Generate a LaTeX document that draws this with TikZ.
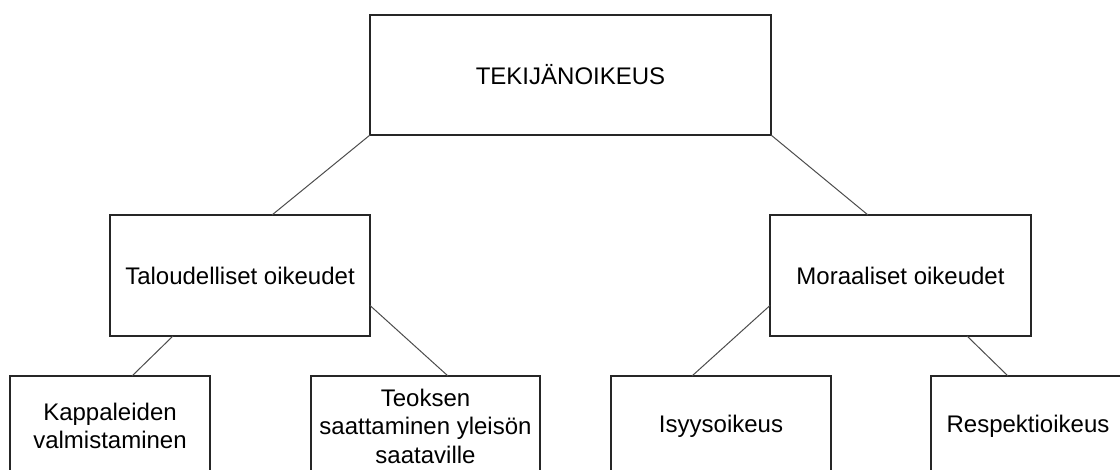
\documentclass[tikz,border=0pt]{standalone}
\usepackage{fontspec}
\setmainfont{Liberation Sans}
\begin{document}
\begin{tikzpicture}[x=1pt,y=-1pt,
  laatikko/.style={draw=black!85,line width=1.3pt,rectangle,outer sep=0pt,inner sep=0pt,
    align=center,font=\fontsize{24}{28.5}\selectfont},
  yhteys/.style={draw=black!70,line width=1pt}]
  \useasboundingbox (0,0) rectangle (1120,470);
  \clip (0,0) rectangle (1120,470);
  % ylin taso
  \node[laatikko,minimum width=401pt,minimum height=120pt] (tekija) at (570.5,75) {TEKIJÄNOIKEUS};
  % keskitaso
  \node[laatikko,minimum width=260pt,minimum height=121pt] (talous) at (240,275.5) {Taloudelliset oikeudet};
  \node[laatikko,minimum width=261pt,minimum height=121pt] (moraali) at (900.5,275.5) {Moraaliset oikeudet};
  % alin taso
  \node[laatikko,minimum width=200pt,minimum height=100pt] (kappaleet) at (110,426) {Kappaleiden\\valmistaminen};
  \node[laatikko,minimum width=229pt,minimum height=100pt] (saataville) at (425.5,426) {Teoksen\\saattaminen yleisön\\saataville};
  \node[laatikko,minimum width=220pt,minimum height=100pt] (isyys) at (721,426) {Isyysoikeus};
  \node[laatikko,minimum width=194pt,minimum height=100pt] (respekti) at (1028,426) {Respektioikeus};
  % yhteydet
  \draw[yhteys] (tekija.south west) -- ([xshift=32pt]talous.north);
  \draw[yhteys] (tekija.south east) -- ([xshift=-32.5pt]moraali.north);
  \draw[yhteys] ([xshift=-67pt]talous.south) -- ([xshift=22pt]kappaleet.north);
  \draw[yhteys] ([yshift=-30pt]talous.east) -- ([xshift=22.5pt]saataville.north);
  \draw[yhteys] ([yshift=-30pt]moraali.west) -- ([xshift=-29pt]isyys.north);
  \draw[yhteys] ([xshift=66.5pt]moraali.south) -- ([xshift=-20pt]respekti.north);
\end{tikzpicture}
\end{document}
